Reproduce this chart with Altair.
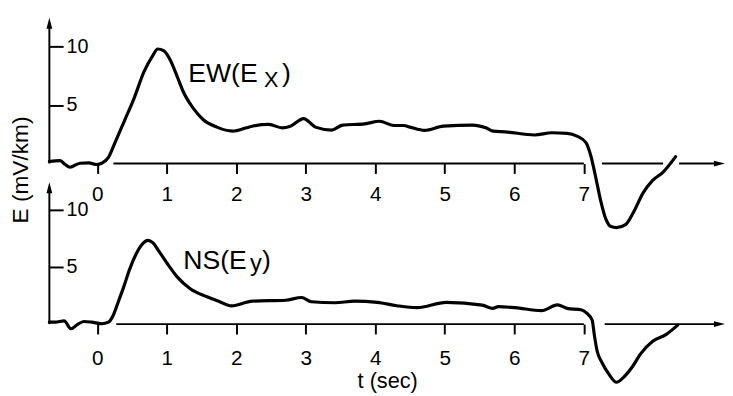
import altair as alt
import pandas as pd

FONT = "Liberation Sans"

# ---- data ----
ew_t = [-0.687, -0.531, -0.460, -0.390, -0.248, -0.120, -0.007, 0.064, 0.163, 0.248,
        0.390, 0.531, 0.673, 0.800, 0.871, 0.956, 1.055, 1.154, 1.239, 1.381,
        1.523, 1.721, 1.948, 2.146, 2.23, 2.47, 2.66, 2.78, 2.97, 3.14,
        3.37, 3.53, 3.85, 4.06, 4.27, 4.41, 4.50, 4.71, 4.98, 5.40,
        5.59, 5.70, 5.87, 6.29, 6.54, 6.76, 6.90, 7.03, 7.10, 7.17,
        7.24, 7.32, 7.39, 7.47, 7.60, 7.71, 7.85, 7.99, 8.14, 8.32]
ew_v = [0.19, 0.25, -0.08, -0.31, 0.03, 0.06, -0.08, 0.03, 0.53, 1.66,
        3.61, 5.57, 7.82, 9.22, 9.78, 9.64, 8.8, 7.39, 6.13, 4.73,
        3.76, 3.11, 2.77, 3.05, 3.19, 3.34, 3.05, 3.19, 3.84, 3.11,
        2.86, 3.28, 3.39, 3.61, 3.25, 3.25, 3.11, 2.83, 3.19, 3.28,
        3.05, 2.77, 2.71, 2.44, 2.63, 2.58, 2.35, 1.79, 0.67, -1.15,
        -3.11, -4.79, -5.38, -5.46, -5.21, -4.2, -2.52, -1.43, -0.73, 0.59]

ns_t = [-0.687, -0.602, -0.475, -0.375, -0.290, -0.191, -0.078, 0.064, 0.163, 0.234,
        0.305, 0.390, 0.460, 0.559, 0.659, 0.729, 0.800, 0.885, 1.013, 1.154,
        1.339, 1.579, 1.763, 1.933, 2.23, 2.71, 2.94, 3.08, 3.42, 3.70,
        4.03, 4.31, 4.60, 5.02, 5.54, 5.69, 5.77, 6.01, 6.39, 6.62,
        6.76, 6.96, 7.05, 7.12, 7.15, 7.19, 7.26, 7.36, 7.47, 7.57,
        7.71, 7.81, 7.99, 8.18, 8.35]
ns_v = [0.17, 0.17, 0.28, -0.41, -0.06, 0.23, 0.17, 0.03, 0.17, 0.80,
        1.96, 3.39, 4.68, 6.12, 7.07, 7.33, 7.13, 6.41, 5.26, 4.11,
        3.10, 2.39, 1.96, 1.59, 2.01, 2.09, 2.33, 1.96, 1.87, 2.01,
        1.90, 1.61, 1.44, 1.90, 1.66, 1.38, 1.53, 1.44, 1.18, 1.68,
        1.38, 1.25, 0.91, 0.34, -0.92, -2.33, -3.36, -4.37, -5.09, -4.66,
        -3.62, -2.65, -1.49, -0.92, -0.09]

x_ticks = [0, 1, 2, 3, 4, 5, 6, 7]
y_ticks = [5, 10]

# baseline (time axis) segments, with gaps where the trace crosses
top_seg_from = [0.234, 7.26, 8.37]
top_seg_to = [7.0, 8.14, 8.93]
bot_seg_from = [0.276, 7.30]
bot_seg_to = [7.0, 8.93]

top_text = ["EW(E", "X", ")"]
top_text_t = [1.31, 2.40, 2.66]
top_text_v = [6.97, 6.55, 6.97]
top_text_size = [27, 22, 27]

bot_text = ["NS(E", "y", ")"]
bot_text_t = [1.24, 2.20, 2.37]
bot_text_v = [4.83, 4.66, 4.83]
bot_text_size = [27, 24, 27]

T_MIN, T_MAX = -0.687, 9.03
W = 686
ARROW_T = 8.93

UP = "M0,-1L0.42,0.6L-0.42,0.6Z"
RIGHT = "M1,0L-0.6,0.42L-0.6,-0.42Z"


def panel(ct, cv, sf, st, texts, tt, tv, ts, ymax, height, arrow_v,
          xlabel_pad, x_title, y_title):
    xs = alt.Scale(domain=[T_MIN, T_MAX], nice=False, zero=False)
    ys = alt.Scale(domain=[0, ymax], nice=False, zero=False)

    xaxis_kw = dict(values=x_ticks, domain=False, grid=False, tickSize=10,
                    tickWidth=2, tickColor="black", labelPadding=xlabel_pad,
                    labelFont=FONT, labelFontSize=21, labelColor="black",
                    title=x_title if x_title else "")
    if x_title:
        xaxis_kw.update(titleFont=FONT, titleFontSize=22,
                        titleFontWeight="normal", titleColor="black",
                        titlePadding=2)
    yaxis_kw = dict(values=y_ticks, domain=False, grid=False, offset=-14,
                    tickSize=14, tickWidth=2, tickColor="black",
                    labelAlign="left", labelPadding=-17, labelBaseline="middle",
                    labelFont=FONT, labelFontSize=20, labelColor="black",
                    title=y_title if y_title else "")
    if y_title:
        yaxis_kw.update(titleFont=FONT, titleFontSize=23,
                        titleFontWeight="normal", titleColor="black",
                        titleX=-43, titleY=154, titleAlign="center",
                        titleBaseline="middle", titleAngle=270)
    xa = alt.Axis(**xaxis_kw)
    ya = alt.Axis(**yaxis_kw)

    curve_df = pd.DataFrame({"t": ct, "v": cv, "i": list(range(len(ct)))})
    curve = alt.Chart(curve_df).mark_line(
        color="black", strokeWidth=3.2, interpolate="monotone",
        strokeJoin="round", strokeCap="round"
    ).encode(
        x=alt.X("t:Q", scale=xs, axis=xa),
        y=alt.Y("v:Q", scale=ys, axis=ya),
        order="i:Q",
    )

    seg_df = pd.DataFrame({"t": sf, "t2": st, "v": [0] * len(sf)})
    segs = alt.Chart(seg_df).mark_rule(color="black", strokeWidth=2).encode(
        x=alt.X("t:Q", scale=xs, axis=xa),
        x2="t2:Q",
        y=alt.Y("v:Q", scale=ys, axis=ya),
    )

    vax_df = pd.DataFrame({"t": [T_MIN], "v": [0], "v2": [arrow_v]})
    vax = alt.Chart(vax_df).mark_rule(color="black", strokeWidth=2).encode(
        x=alt.X("t:Q", scale=xs, axis=xa),
        y=alt.Y("v:Q", scale=ys, axis=ya),
        y2="v2:Q",
    )
    up_df = pd.DataFrame({"t": [T_MIN], "v": [arrow_v]})
    up = alt.Chart(up_df).mark_point(
        shape=UP, filled=True, color="black", size=196, opacity=1, strokeWidth=0
    ).encode(
        x=alt.X("t:Q", scale=xs, axis=xa),
        y=alt.Y("v:Q", scale=ys, axis=ya),
    )
    rt_df = pd.DataFrame({"t": [ARROW_T], "v": [0]})
    right = alt.Chart(rt_df).mark_point(
        shape=RIGHT, filled=True, color="black", size=196, opacity=1, strokeWidth=0
    ).encode(
        x=alt.X("t:Q", scale=xs, axis=xa),
        y=alt.Y("v:Q", scale=ys, axis=ya),
    )

    txt_df = pd.DataFrame({"s": texts, "t": tt, "v": tv, "fs": ts})
    txt = alt.Chart(txt_df).mark_text(
        align="left", baseline="alphabetic", font=FONT, color="black"
    ).encode(
        x=alt.X("t:Q", scale=xs, axis=xa),
        y=alt.Y("v:Q", scale=ys, axis=ya),
        text="s:N",
        size=alt.Size("fs:Q", scale=None, legend=None),
    )

    return alt.layer(curve, segs, vax, up, right, txt).properties(
        width=W, height=height
    )


top = panel(ew_t, ew_v, top_seg_from, top_seg_to,
            top_text, top_text_t, top_text_v, top_text_size,
            ymax=12.44, height=148, arrow_v=11.85, xlabel_pad=10,
            x_title=None, y_title="E (mV/km)")
bottom = panel(ns_t, ns_v, bot_seg_from, bot_seg_to,
               bot_text, bot_text_t, bot_text_v, bot_text_size,
               ymax=12.41, height=144, arrow_v=11.81, xlabel_pad=14,
               x_title="t (sec)", y_title=None)

chart = alt.vconcat(top, bottom, spacing=19, bounds="flush").resolve_scale(
    x="independent", y="independent"
).properties(
    padding={"left": 2, "top": 7, "right": 0, "bottom": 0},
    background="white",
).configure_view(stroke=None)

chart.save("out.html", embed_options={"renderer": "svg", "actions": False})
